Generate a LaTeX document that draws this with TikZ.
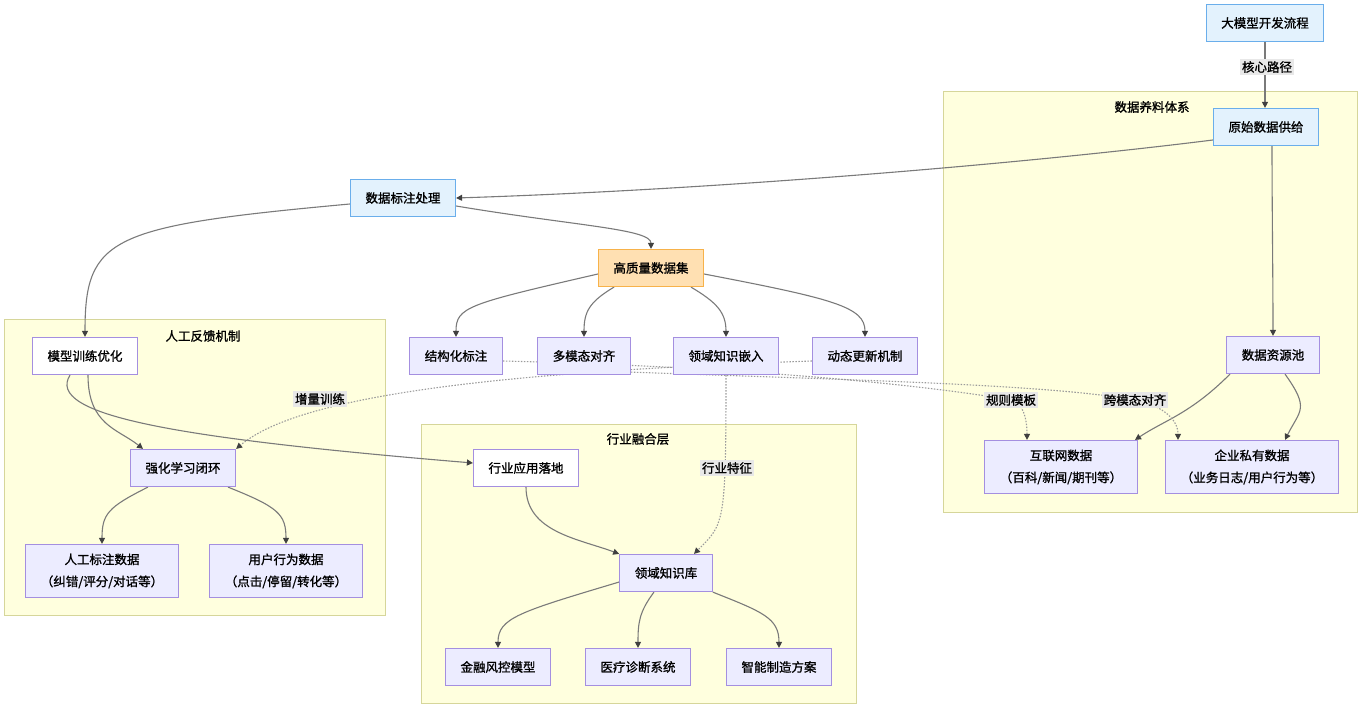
\documentclass[tikz,border=0pt]{standalone}
\usepackage{fontspec}
\setmainfont{Noto Sans CJK SC}[RawFeature={embolden=1.2}]
\usetikzlibrary{arrows.meta}

\definecolor{nodefill}{HTML}{ECECFF}
\definecolor{nodeline}{HTML}{A48FE0}
\definecolor{bluefill}{HTML}{E3F2FD}
\definecolor{blueline}{HTML}{6AAEEB}
\definecolor{orangefill}{HTML}{FFE0B2}
\definecolor{orangeline}{HTML}{F7B24A}
\definecolor{clusterfill}{HTML}{FFFFDE}
\definecolor{clusterline}{HTML}{D6D69A}
\definecolor{edgeline}{HTML}{7A7A7A}
\definecolor{labelfill}{HTML}{E8E8E8}
\newcommand{\nodefont}{\fontsize{12.5pt}{22pt}\selectfont}

\pgfdeclarelayer{clusters}
\pgfdeclarelayer{edges}
\pgfsetlayers{clusters,edges,main}

\begin{document}
\begin{tikzpicture}[x=1pt, y=-1pt,
    proc/.style={draw=nodeline, fill=nodefill, line width=1.2pt, minimum height=37pt, inner xsep=15pt, font=\nodefont},
    core/.style={proc, draw=blueline, fill=bluefill},
    keyproc/.style={proc, draw=orangeline, fill=orangefill},
    twoline/.style={proc, minimum height=53pt, minimum width=150pt, align=center},
    elabel/.style={fill=labelfill, inner sep=2pt, font=\nodefont},
    cluster/.style={draw=clusterline, fill=clusterfill, line width=1pt},
    ctitle/.style={font=\nodefont},
    flow/.style={draw=edgeline, line width=1.1pt, -{Triangle[length=6pt,width=6pt,color=black!75]}},
    dotflow/.style={flow, draw=edgeline!75, dash pattern=on 1.5pt off 1.5pt}]
  \useasboundingbox (0,0) rectangle (1359,708);

  % subgraphs
  \begin{pgfonlayer}{clusters}
    \draw[cluster] (943,92) rectangle (1357,512);
    \draw[cluster] (4,320) rectangle (385,615);
    \draw[cluster] (421,424) rectangle (856,703);
  \end{pgfonlayer}
  \node[ctitle] at (1152,107) {数据养料体系};
  \node[ctitle] at (203,336) {人工反馈机制};
  \node[ctitle] at (638,439) {行业融合层};

  % main path
  \node[core] (dmx) at (1265,23) {大模型开发流程};
  \node[core] (yuan) at (1266,127) {原始数据供给};
  \node[core] (biaozhu) at (403,198) {数据标注处理};
  \node[keyproc] (gaozhi) at (651,268) {高质量数据集};
  \node[proc] (jiegou) at (456,356) {结构化标注};
  \node[proc] (duomo) at (584,356) {多模态对齐};
  \node[proc] (lingyu) at (726,356) {领域知识嵌入};
  \node[proc] (dongtai) at (865,356) {动态更新机制};

  % feedback
  \node[proc, fill=white] (xunlian) at (85,356) {模型训练优化};
  \node[proc] (qianghua) at (183,468) {强化学习闭环};
  \node[twoline] (rengong) at (102,571) {人工标注数据\\（纠错/评分/对话等）};
  \node[twoline] (yonghu) at (286,571) {用户行为数据\\（点击/停留/转化等）};

  % industry
  \node[proc, fill=white] (hangye) at (526,468) {行业应用落地};
  \node[proc] (zsk) at (666,573) {领域知识库};
  \node[proc] (jinrong) at (498,667) {金融风控模型};
  \node[proc] (yiliao) at (638,667) {医疗诊断系统};
  \node[proc] (zhineng) at (779,667) {智能制造方案};

  % data sources
  \node[proc] (ziyuan) at (1273,355) {数据资源池};
  \node[twoline] (hulian) at (1061,467) {互联网数据\\（百科/新闻/期刊等）};
  \node[twoline, minimum width=165pt] (qiye) at (1252,467) {企业私有数据\\（业务日志/用户行为等）};

  % edge labels
  \node[elabel] (hexin) at (1267,67) {核心路径};
  \node[elabel] (zengliang) at (320,399) {增量训练};
  \node[elabel] (guize) at (1011,400) {规则模板};
  \node[elabel] (kuamo) at (1135,400) {跨模态对齐};
  \node[elabel] (tezheng) at (727,468) {行业特征};

  \begin{pgfonlayer}{edges}
    \draw[flow] (dmx.south) -- (dmx.south |- yuan.north);
    \draw[flow] ([yshift=-13pt]yuan.west) .. controls +(-200,25) and +(250,-8) .. (biaozhu.east);
    \draw[flow] ([xshift=6pt]yuan.south) .. controls +(0,60) and +(0,-60) .. (ziyuan.north);
    \draw[flow] ([yshift=-6pt]biaozhu.west) .. controls +(-240,22) and +(0,-100) .. (xunlian.north);
    \draw[flow] ([yshift=-8pt]biaozhu.east) .. controls +(120,20) and +(0,-20) .. (gaozhi.north);

    \draw[flow] ([yshift=-6pt]gaozhi.west) .. controls +(-130,30) and +(0,-30) .. (jiegou.north);
    \draw[flow] ([xshift=-37pt]gaozhi.south) .. controls +(-25,15) and +(0,-25) .. (duomo.north);
    \draw[flow] ([xshift=40pt]gaozhi.south) .. controls +(25,15) and +(0,-25) .. (lingyu.north);
    \draw[flow] ([yshift=-6pt]gaozhi.east) .. controls +(130,25) and +(0,-30) .. (dongtai.north);

    \draw[flow] ([xshift=3pt]xunlian.south) .. controls +(0,50) and +(-25,-20) .. ([xshift=-40pt]qianghua.north);
    \draw[flow] ([xshift=-15pt]xunlian.south) .. controls +(-25,40) and +(-300,-25) .. ([yshift=5pt]hangye.west);
    \draw[flow] ([xshift=-35pt]qianghua.south) .. controls +(-40,20) and +(0,-30) .. (rengong.north);
    \draw[flow] ([xshift=45pt]qianghua.south) .. controls +(50,20) and +(0,-30) .. (yonghu.north);

    \draw[flow] (hangye.south) .. controls +(0,45) and +(-40,-15) .. (zsk.north west);
    \draw[flow] ([yshift=-9pt]zsk.west) .. controls +(-100,30) and +(0,-30) .. (jinrong.north);
    \draw[flow] ([xshift=-12pt]zsk.south) .. controls +(-15,20) and +(0,-25) .. (yiliao.north);
    \draw[flow] (zsk.south east) .. controls +(50,20) and +(0,-30) .. (zhineng.north);

    \draw[flow] ([xshift=-43pt]ziyuan.south) .. controls +(-40,40) and +(30,-20) .. ([xshift=74pt]hulian.north);
    \draw[flow] ([xshift=12pt]ziyuan.south) .. controls +(25,35) and +(15,-30) .. ([xshift=33pt]qiye.north);

    % dotted links
    \draw[dotflow] ([yshift=-5pt]dongtai.west) .. controls (500,372) and (300,395) .. (qianghua.north east);
    \draw[dotflow] ([yshift=-5pt]jiegou.east) .. controls +(250,6) and +(-80,-14) .. (guize.center)
      .. controls +(12,3) and +(0,-22) .. ([xshift=-34pt]hulian.north);
    \draw[dotflow] ([yshift=3pt]duomo.south east) .. controls +(220,8) and +(-90,-16) .. (kuamo.center)
      .. controls +(25,5) and +(0,-22) .. ([xshift=-74pt]qiye.north);
    \draw[dotflow] (lingyu.south) .. controls +(0,150) and +(30,-30) .. ([xshift=28pt]zsk.north);
  \end{pgfonlayer}
\end{tikzpicture}
\end{document}
